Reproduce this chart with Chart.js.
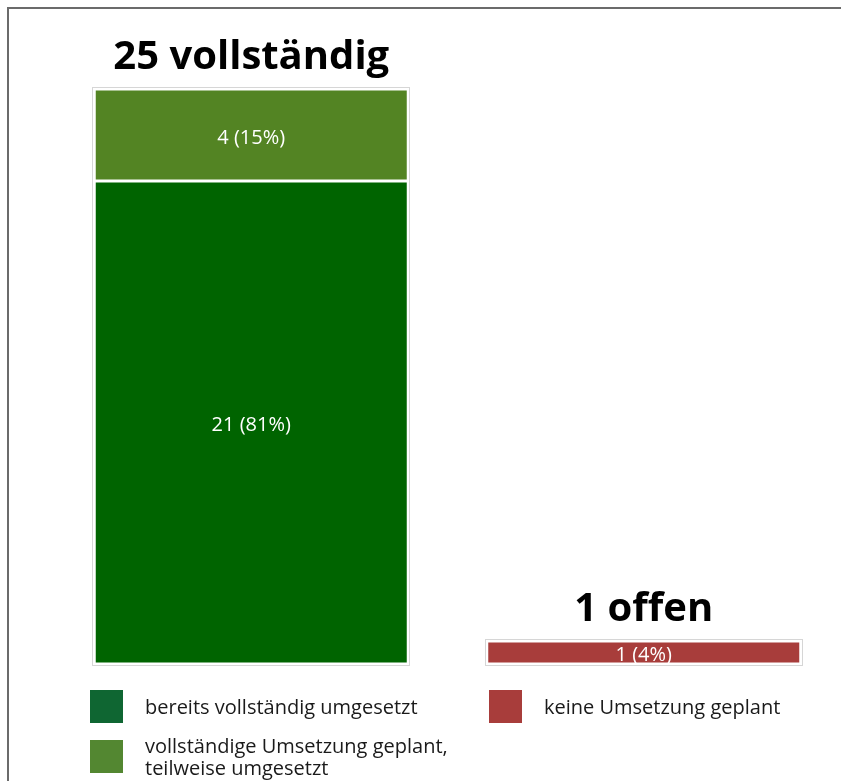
<!DOCTYPE html>
<html lang="de">
<head>
  <meta charset="UTF-8" />
  <title>Umsetzungsstand</title>
  <style>
    body { margin: 0; background: #fff; font-family: "Open Sans", sans-serif; }
    .wrap { position: relative; width: 841px; height: 781px; overflow: hidden; }
    .frame { position: absolute; left: 7px; top: 7px; right: 0; bottom: 0; border-left: 2px solid #6b6b6b; border-top: 2px solid #6b6b6b; }
    canvas { position: absolute; left: 0; top: 0; }
    .legend-item { position: absolute; display: flex; align-items: center; font-size: 20px; color: #1a1a1a; line-height: 22px; }
    .legend-item .box { width: 33px; height: 33px; flex: none; margin-right: 22px; }
  </style>
</head>
<body>
  <div class="wrap">
    <div class="frame"></div>
    <canvas id="chart" width="841" height="781"></canvas>
    <div id="legend"></div>
  </div>

  <script src="https://cdn.jsdelivr.net/npm/chart.js"></script>
  <script>
    const categories = ['25 vollständig', '1 offen'];
    const seriesNames = ['bereits vollständig umgesetzt', 'vollständige Umsetzung geplant, teilweise umgesetzt', 'keine Umsetzung geplant'];
    const umgesetzt = [21, 0];
    const geplant = [4, 0];
    const keine = [0, 1];

    const barColors = ['#006400', '#538423', '#a83d3b'];
    const legendColors = ['#0f6632', '#538731', '#a83d3b'];
    const legendPos = [[90, 690], [90, 740], [489, 690]];
    const legendLines = [['bereits vollständig umgesetzt'], ['vollständige Umsetzung geplant,', 'teilweise umgesetzt'], ['keine Umsetzung geplant']];

    const allSeries = [umgesetzt, geplant, keine];
    const total = allSeries.reduce((s, arr) => s + arr.reduce((a, b) => a + b, 0), 0);

    // werte + titel direkt auf die balken schreiben
    const labelPlugin = {
      id: 'labels',
      afterDatasetsDraw(chart) {
        const ctx = chart.ctx;
        const y = chart.scales.y;
        ctx.save();
        ctx.textAlign = 'center';
        ctx.textBaseline = 'middle';
        chart.data.datasets.forEach((ds, i) => {
          chart.getDatasetMeta(i).data.forEach((bar, j) => {
            const v = ds.data[j];
            if (!v) return;
            const top = Math.min(bar.y, bar.base);
            const h = Math.abs(bar.base - bar.y);
            ctx.save();
            ctx.beginPath();
            ctx.rect(bar.x - bar.width / 2, top, bar.width, h);
            ctx.clip();
            ctx.font = '20px "Open Sans"';
            ctx.fillStyle = '#fff';
            ctx.fillText(v + ' (' + Math.round(v / total * 100) + '%)', bar.x, top + h / 2 + 3);
            ctx.restore();
          });
        });
        // titel + rahmen um jeden stapel
        categories.forEach((cat, j) => {
          const sum = allSeries.reduce((s, arr) => s + arr[j], 0);
          const bar = chart.getDatasetMeta(0).data[j];
          const top = y.getPixelForValue(sum);
          const bottom = y.getPixelForValue(0);
          const w = bar.width;
          ctx.strokeStyle = '#d6d6d6';
          ctx.lineWidth = 1;
          ctx.strokeRect(Math.round(bar.x - w / 2) - 1.5, Math.round(top) - 1.5, Math.round(w) + 3, Math.round(bottom - top) + 3);
          ctx.fillStyle = '#000';
          ctx.font = 'bold 40px "Open Sans"';
          ctx.textBaseline = 'alphabetic';
          ctx.fillText(cat, bar.x, top - 20);
        });
        ctx.restore();
      }
    };

    new Chart(document.getElementById('chart'), {
      type: 'bar',
      data: {
        labels: categories,
        datasets: allSeries.map((arr, i) => ({
          label: seriesNames[i],
          data: arr,
          backgroundColor: barColors[i],
          borderColor: '#fff',
          borderWidth: 1.5,
          borderSkipped: false,
          barPercentage: 0.8,
          categoryPercentage: 1.0
        }))
      },
      options: {
        responsive: false,
        animation: false,
        layout: { padding: { left: 55, right: 1, top: 89, bottom: 117 } },
        plugins: { legend: { display: false }, tooltip: { enabled: false } },
        scales: {
          x: { stacked: true, display: false },
          y: { stacked: true, display: false, min: 0, max: 25 }
        }
      },
      plugins: [labelPlugin]
    });

    const legend = document.getElementById('legend');
    seriesNames.forEach((name, i) => {
      const item = document.createElement('div');
      item.className = 'legend-item';
      item.style.left = legendPos[i][0] + 'px';
      item.innerHTML = '<div class="box" style="background:' + legendColors[i] + '"></div><div class="txt">' + legendLines[i].join('<br>') + '</div>';
      legend.appendChild(item);
      // kasten oben an legendPos ausrichten
      item.style.top = (legendPos[i][1] - (item.offsetHeight - 33) / 2) + 'px';
    });
  </script>
</body>
</html>
